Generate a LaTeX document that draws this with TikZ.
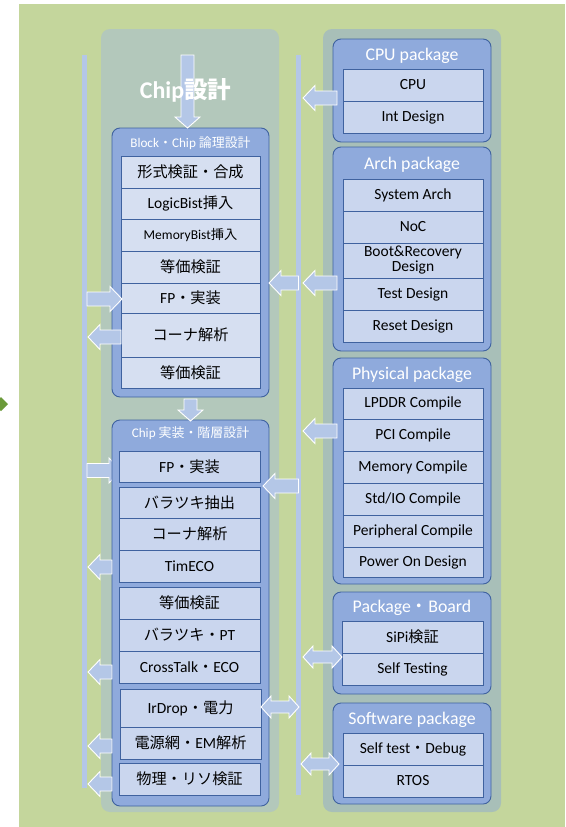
\documentclass[tikz,border=0pt]{standalone}
\usepackage{fontspec}
\setmainfont{Carlito}
\newfontfamily\cjk[Scale=0.98]{Noto Sans CJK JP}
\usetikzlibrary{calc}

\newcommand\J[1]{{\cjk #1}}
\newcommand\cellfont{\fontsize{15.5}{16.5}\selectfont}

\definecolor{bggreen}{HTML}{C4D69C}
\definecolor{panelL}{HTML}{B3C8BB}
\definecolor{panelR}{HTML}{A8BFB8}
\definecolor{boxblue}{HTML}{8FAADC}
\definecolor{boxedge}{HTML}{3F629F}
\definecolor{rowlight}{HTML}{D6DFF1}
\definecolor{rowfill}{HTML}{CAD6EE}
\definecolor{arrowfill}{HTML}{B4C7E7}
\definecolor{olivemark}{HTML}{6B9A3A}

\pgfdeclarelayer{bottom}
\pgfdeclarelayer{back}
\pgfsetlayers{bottom,back,main}

\tikzset{
  panel/.style={fill=#1, draw=none, rounded corners=9pt},
  bar/.style={fill=arrowfill, draw=none},
  pkgbox/.style={fill=boxblue, draw=boxedge, line width=0.9pt, rounded corners=8pt},
  cell/.style={fill=#1, draw=boxedge, line width=0.8pt, font=\cellfont,
    align=center, text=black},
  title/.style={text=white, font=\fontsize{17.8}{19}\selectfont, inner sep=0pt},
  smalltitle/.style={text=white, font=\fontsize{13.2}{15}\selectfont, inner sep=0pt},
  blockarrow/.style={fill=arrowfill, draw=white, line width=0.9pt, line join=miter},
}

% node given by its corners: name, style, x1, y1, x2, y2, text
\newcommand\rect[7]{\node[#2, minimum width={(#5)-(#3)}, minimum height={(#6)-(#4)},
  inner sep=0pt, outer sep=0pt] (#1) at ({((#3)+(#5))/2},{((#4)+(#6))/2}) {#7};}

% horizontal block arrow from tail #1 to tip #2 (drawn at the tip's height)
\newcommand\harrow[2]{\path[blockarrow] let \p1=#1, \p2=#2, \n1={sign(\x2-\x1)} in
  (\x1,\y2+7pt) -- ({\x2-\n1*12pt},\y2+7pt) -- ({\x2-\n1*12pt},\y2+12.5pt) -- (\x2,\y2)
  -- ({\x2-\n1*12pt},\y2-12.5pt) -- ({\x2-\n1*12pt},\y2-7pt) -- (\x1,\y2-7pt) -- cycle;}

% horizontal two-headed block arrow between #1 and #2 (at the height of #2)
\newcommand\darrow[2]{\path[blockarrow] let \p1=#1, \p2=#2, \n1={sign(\x2-\x1)} in
  (\x1,\y2) -- ({\x1+\n1*10pt},\y2+11pt) -- ({\x1+\n1*10pt},\y2+6pt)
  -- ({\x2-\n1*10pt},\y2+6pt) -- ({\x2-\n1*10pt},\y2+11pt) -- (\x2,\y2)
  -- ({\x2-\n1*10pt},\y2-11pt) -- ({\x2-\n1*10pt},\y2-6pt)
  -- ({\x1+\n1*10pt},\y2-6pt) -- ({\x1+\n1*10pt},\y2-11pt) -- cycle;}

% downward block arrow from tail #1 to tip #2 (at the tip's x)
\newcommand\varrow[2]{\path[blockarrow] let \p1=#1, \p2=#2 in
  (\x2-6.5pt,\y1) -- (\x2-6.5pt,\y2+11pt) -- (\x2-12.5pt,\y2+11pt) -- (\x2,\y2)
  -- (\x2+12.5pt,\y2+11pt) -- (\x2+6.5pt,\y2+11pt) -- (\x2+6.5pt,\y1) -- cycle;}

\begin{document}
\begin{tikzpicture}[x=1pt,y=-1pt]
\useasboundingbox (0,0) rectangle (565,827);

\begin{pgfonlayer}{bottom}
  \fill[bggreen] (19,4) rectangle (565,827);
  \fill[olivemark] (1,397) -- (8,404) -- (1,411) -- (-6,404) -- cycle;
  \rect{leftpanel}{panel=panelL}{101}{29}{279}{812}{}
  \rect{rightpanel}{panel=panelR}{323}{29}{501}{812}{}
  \rect{lbar}{bar}{82}{55}{87}{788}{}
  \rect{mbar}{bar}{296}{55}{301}{795}{}
\end{pgfonlayer}

\coordinate (flowtop) at (187.5,55);

% ---- Block / Chip logic design ----
\rect{blk}{pkgbox}{112}{128}{269}{397}{}
\node[smalltitle] (blkt) at (190.5,143) {Block\J{・}Chip \J{論理設計}};
\rect{b1}{cell=rowlight}{121}{156}{260}{188}{\J{形式検証・合成}}
\rect{b2}{cell=rowlight}{121}{188}{260}{219}{LogicBist\J{挿入}}
\rect{b3}{cell=rowlight, font=\fontsize{13.5}{15}\selectfont}{121}{219}{260}{251}{MemoryBist\J{挿入}}
\rect{b4}{cell=rowlight}{121}{251}{260}{283}{\J{等価検証}}
\rect{b5}{cell=rowlight}{121}{283}{260}{313}{FP\J{・実装}}
\rect{b6}{cell=rowlight}{121}{313}{260}{357}{\J{コーナ解析}}
\rect{b7}{cell=rowlight}{121}{357}{260}{388}{\J{等価検証}}

% ---- Chip implementation / hierarchy ----
\rect{chp}{pkgbox}{112}{420}{269}{806}{}
\node[smalltitle] (chpt) at (190.5,433) {Chip \J{実装・階層設計}};
\rect{c1}{cell=rowfill}{119}{451}{260}{482}{FP\J{・実装}}
\rect{c2}{cell=rowfill}{119}{487}{260}{518}{\J{バラツキ抽出}}
\rect{c3}{cell=rowfill}{119}{518}{260}{550}{\J{コーナ解析}}
\rect{c4}{cell=rowfill}{119}{550}{260}{582}{TimECO}
\rect{c5}{cell=rowfill}{119}{587}{260}{619}{\J{等価検証}}
\rect{c6}{cell=rowfill}{119}{619}{260}{651}{\J{バラツキ・}PT}
\rect{c7}{cell=rowfill}{119}{651}{260}{683}{CrossTalk\J{・}ECO}
\rect{c8}{cell=rowfill}{120}{689}{261}{727}{IrDrop\J{・電力}}
\rect{c9}{cell=rowfill}{120}{727}{261}{759}{\J{電源網・}EM\J{解析}}
\rect{c10}{cell=rowfill}{119}{763}{260}{795}{\J{物理・リソ検証}}

% ---- packages ----
\rect{cpu}{pkgbox}{333}{39}{491}{142}{}
\node[title] (cput) at (412,56) {CPU package};
\rect{cpu1}{cell=rowfill}{343}{69}{483}{101}{CPU}
\rect{cpu2}{cell=rowfill}{343}{101}{483}{133}{Int Design}

\rect{arch}{pkgbox}{333}{147}{491}{351}{}
\node[title] (archt) at (412,165) {Arch package};
\rect{a1}{cell=rowfill}{343}{179}{483}{211}{System Arch}
\rect{a2}{cell=rowfill}{343}{211}{483}{243}{NoC}
\rect{a3}{cell=rowfill}{343}{243}{483}{278}{Boot\&Recovery\\[-1.5pt]Design}
\rect{a4}{cell=rowfill}{343}{278}{483}{310}{Test Design}
\rect{a5}{cell=rowfill}{343}{310}{483}{342}{Reset Design}

\rect{phy}{pkgbox}{333}{358}{491}{584}{}
\node[title] (phyt) at (412,375) {Physical package};
\rect{p1}{cell=rowfill}{343}{388}{483}{419}{LPDDR Compile}
\rect{p2}{cell=rowfill}{343}{419}{483}{451}{PCI Compile}
\rect{p3}{cell=rowfill}{343}{451}{483}{483}{Memory Compile}
\rect{p4}{cell=rowfill}{343}{483}{483}{515}{Std/IO Compile}
\rect{p5}{cell=rowfill}{343}{515}{483}{547}{Peripheral Compile}
\rect{p6}{cell=rowfill}{343}{547}{483}{577}{Power On Design}

\rect{pkb}{pkgbox}{333}{592}{491}{694}{}
\node[title] (pkbt) at (412,608) {Package\J{・}Board};
\rect{pb1}{cell=rowfill}{342}{621}{483}{653}{SiPi\J{検証}}
\rect{pb2}{cell=rowfill}{342}{653}{483}{685}{Self Testing}

\rect{sw}{pkgbox}{333}{703}{491}{804}{}
\node[title] (swt) at (412,720) {Software package};
\rect{sw1}{cell=rowfill}{343}{733}{483}{765}{Self test\J{・}Debug}
\rect{sw2}{cell=rowfill}{343}{765}{483}{797}{RTOS}

% ---- flow arrows ----
\begin{pgfonlayer}{back}
  \harrow{(lbar.east)}{($(chp.west |- c1)+(9,4)$)}
\end{pgfonlayer}

\varrow{(flowtop)}{(flowtop |- blk.north)}
\node[text=white, font=\fontsize{24}{26}\selectfont\bfseries, inner sep=0pt]
  (chipdesign) at (185.5,90) {Chip\J{設計}};
\varrow{($(blk.south)+(0,2)$)}{($(chp.north)+(0,1)$)}

\harrow{(lbar.east)}{($(b5.west)+(1,1)$)}
\harrow{(b6.west)}{($(lbar.east |- b6)+(1,2)$)}
\harrow{(chp.west)}{($(lbar.east |- c4)+(1,1)$)}
\harrow{(chp.west)}{($(lbar.east |- c7)+(1,5)$)}
\harrow{(chp.west)}{($(lbar.east |- c9)+(1,3)$)}
\harrow{(chp.west)}{($(lbar.east |- c10)+(1,5)$)}

\harrow{(mbar.center)}{(blk.east |- b4.south)}
\harrow{($(arch.west)+(4,0)$)}{($(mbar.east |- b4.south)+(2,0)$)}
\harrow{(mbar.center)}{($(chp.east |- c2.north)+(-6,-1)$)}
\harrow{($(cpu.west)+(4,0)$)}{($(mbar.east |- cpu1.south)+(2,-3)$)}
\harrow{($(phy.west)+(4,0)$)}{($(mbar.east |- p2)+(2,-4)$)}

\darrow{(c8.east)}{($(mbar.center |- c8)+(0.5,-1)$)}
\darrow{($(mbar.east)+(2,0)$)}{($(pb1.south west)+(0,4)$)}
\darrow{(mbar.east)}{($(sw1.south west)+(-4,-1)$)}
\end{tikzpicture}
\end{document}
